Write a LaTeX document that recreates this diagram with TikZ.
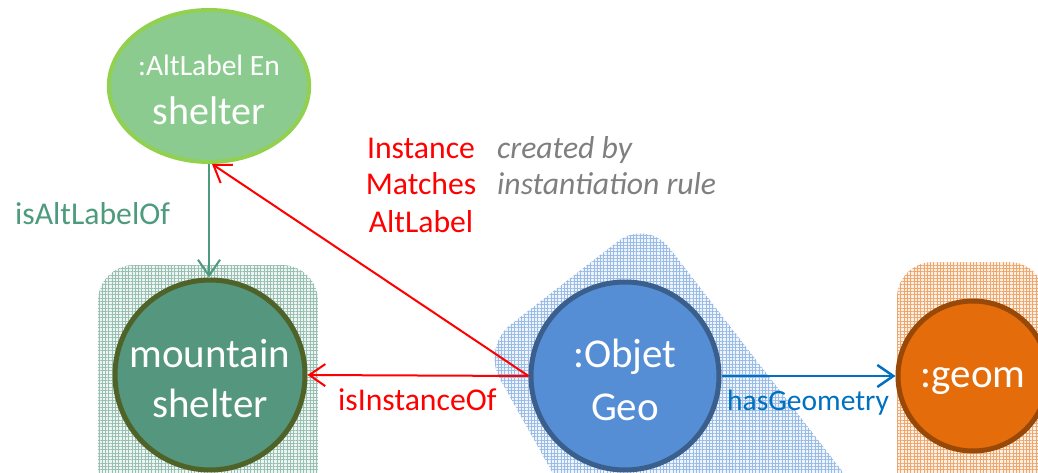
\documentclass[tikz,border=0pt]{standalone}
\usepackage{fontspec}
\setmainfont{Carlito}
\usetikzlibrary{shapes.geometric,arrows.meta,patterns.meta}

\definecolor{altfill}{HTML}{8CCB8F}
\definecolor{altedge}{HTML}{92D050}
\definecolor{mtfill}{HTML}{54967E}
\definecolor{mtedge}{HTML}{4F6228}
\definecolor{geofill}{HTML}{558ED5}
\definecolor{geoedge}{HTML}{3A5F8C}
\definecolor{gmfill}{HTML}{E46C0A}
\definecolor{gmedge}{HTML}{984807}
\definecolor{linkgreen}{HTML}{4E9A7E}
\definecolor{linkblue}{HTML}{0070C0}
\definecolor{notegray}{HTML}{7F7F7F}

\tikzset{
  concept/.style={circle, inner sep=0pt, line width=5pt, text=white,
    align=center, font=\fontsize{41}{50}\selectfont},
  halo/.style={fill=#1!10, rounded corners=36pt,
    postaction={pattern={Hatch[angle=0,distance=3.3pt,line width=0.9pt]},
      pattern color=#1!60}},
  link/.style={-{Straight Barb[length=16pt,width=22pt]}, line width=2pt},
  linklabel/.style={font=\fontsize{31.7}{36}\selectfont, inner sep=0pt},
  notelabel/.style={font=\fontsize{31.7}{36}\selectfont\itshape, inner sep=0pt,
    text=notegray, anchor=base west},
}

\begin{document}
\begin{tikzpicture}[x=1pt,y=-1pt]
\clip (0,0) rectangle (1038,473);

% hatched halos behind the classes
\fill[halo=mtfill] (98,265) rectangle (318,520);
\fill[halo=geofill] (564,283) -- (647,219) -- (880,520)
  -- (579,520) -- (482,347) -- cycle;
\fill[halo=gmfill] (897,262) rectangle (1045,520);

% resources
\node[ellipse, minimum width=176pt, minimum height=152pt, inner sep=0pt,
  fill=altfill, draw=altedge, line width=4pt, text=white, align=center,
  font=\fontsize{40}{49}\selectfont]
  (alt) at (209,86)
  {{\fontsize{29.5}{49}\selectfont\rule{0pt}{29pt}:AltLabel En}\\shelter};
\node[concept, minimum size=190pt, fill=mtfill, draw=mtedge]
  (mt) at (210,375) {\rule{0pt}{36pt}mountain\\shelter};
\node[concept, minimum size=188pt, fill=geofill, draw=geoedge]
  (geo) at (625,376) {\rule{0pt}{36pt}:Objet\\[3pt]Geo};
\node[concept, minimum size=150pt, fill=gmfill, draw=gmedge]
  (gm) at (973,376) {\rule{0pt}{31pt}:geom};

% relations
\draw[link, linkgreen] (alt.south) -- (alt.south |- mt.north);
\draw[link, red] (geo.west) -- (mt.east);
\draw[link, red] (geo.west) -- ([xshift=3pt]alt.south);
\draw[link, linkblue, line width=2.5pt] (geo.east) -- (gm.west);

% relation labels
\node[linklabel, text=linkgreen, anchor=base west] (lblalt) at (15,224) {isAltLabelOf};
\node[linklabel, text=red, anchor=base west] (lblinst) at (338,410) {isInstanceOf};
\node[linklabel, text=linkblue, anchor=base west, font=\fontsize{29.5}{36}\selectfont]
  (lblgeom) at (727,410) {hasGeometry};
\node[linklabel, text=red, anchor=base] (rule1) at (421,159) {Instance};
\node[linklabel, text=red, anchor=base] (rule2) at (421,195) {Matches};
\node[linklabel, text=red, anchor=base] (rule3) at (421,232) {AltLabel};
\node[notelabel] (note1) at (497,159) {created by};
\node[notelabel] (note2) at (497,195) {instantiation rule};
\end{tikzpicture}
\end{document}
